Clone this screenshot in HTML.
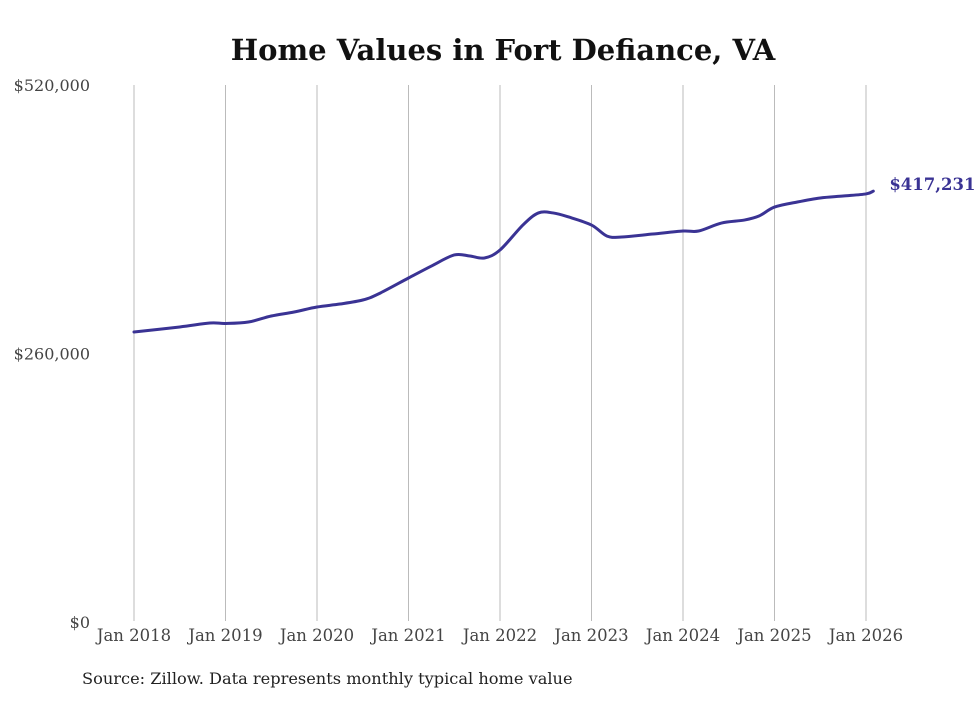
<!DOCTYPE html>
<html><head><meta charset="utf-8"><style>
body{margin:0;background:#fff;width:980px;height:699px;overflow:hidden}
svg text{font-family:"DejaVu Serif","Liberation Serif",serif}
</style></head><body>
<svg id="chart" width="980" height="699">
<text x="503" y="60" text-anchor="middle" font-size="29" font-weight="bold" fill="#111">Home Values in Fort Defiance, VA</text>
<g id="grid"></g><g id="yt"></g><g id="xt"></g><g id="line"></g>
<text x="82" y="684" font-size="16.2" fill="#222">Source: Zillow. Data represents monthly typical home value</text>
</svg>
<script>
const dates=[2018.0,2018.5,2018.83,2019.0,2019.25,2019.5,2019.75,2020.0,2020.25,2020.5,2020.67,2021.0,2021.25,2021.5,2021.67,2021.83,2022.0,2022.25,2022.42,2022.58,2022.75,2023.0,2023.17,2023.33,2023.67,2024.0,2024.17,2024.42,2024.67,2024.83,2025.0,2025.25,2025.5,2025.75,2026.0,2026.08];
const values=[280800,285700,289500,289100,290500,296300,300200,305000,307900,311800,317600,333100,344700,355400,354400,352500,360200,384400,396100,396100,392200,384400,373700,372800,375700,378600,378600,386300,389200,393100,401800,406700,410600,412500,414500,417231];
const yTicks=[0,260000,520000];
const yLabels=["$0","$260,000","$520,000"];
const xTicks=[2018,2019,2020,2021,2022,2023,2024,2025,2026];
const xLabels=xTicks.map(y=>"Jan "+y);
const endLabel="$417,231";
const NS="http://www.w3.org/2000/svg";
const X=d=>134+(d-2018)*91.5, Y=v=>622-v/520000*537;
function mk(t,a,p){const e=document.createElementNS(NS,t);for(const k in a)e.setAttribute(k,a[k]);p.appendChild(e);return e;}
const g=document.getElementById('grid'),yt=document.getElementById('yt'),xt=document.getElementById('xt'),lg=document.getElementById('line');
xTicks.forEach((d,i)=>{
 const l=mk('line',{x1:X(d),x2:X(d),y1:85,y2:621,stroke:'#bbb','stroke-width':1},g);
 
 
 const t=mk('text',{x:X(d),y:641,'text-anchor':'middle','font-size':16.5,fill:'#444'},xt);t.textContent=xLabels[i];
 
 
});
yTicks.forEach((v,i)=>{
 const t=mk('text',{x:90,y:Y(v)+6,'text-anchor':'end','font-size':16,fill:'#444'},yt);t.textContent=yLabels[i];
 
 
});
const n=Math.min(dates.length,values.length);
const pts=[];for(let i=0;i<n;i++)pts.push([X(dates[i]),Y(values[i])]);
let d='M'+pts[0][0]+','+pts[0][1];
for(let i=0;i<pts.length-1;i++){const p0=pts[i-1]||pts[i],p1=pts[i],p2=pts[i+1],p3=pts[i+2]||p2;
 d+=`C${p1[0]+(p2[0]-p0[0])/6},${p1[1]+(p2[1]-p0[1])/6} ${p2[0]-(p3[0]-p1[0])/6},${p2[1]-(p3[1]-p1[1])/6} ${p2[0]},${p2[1]}`;}
const path=mk('path',{d:d,fill:'none',stroke:'#3a3394','stroke-width':3,'stroke-linejoin':'round','stroke-linecap':'round'},lg);


const last=pts[pts.length-1];
const el=mk('text',{x:last[0]+16,y:last[1]-1,'font-size':16.5,'font-weight':'bold',fill:'#3a3394'},lg);el.textContent=endLabel;


</script>
</body></html>
